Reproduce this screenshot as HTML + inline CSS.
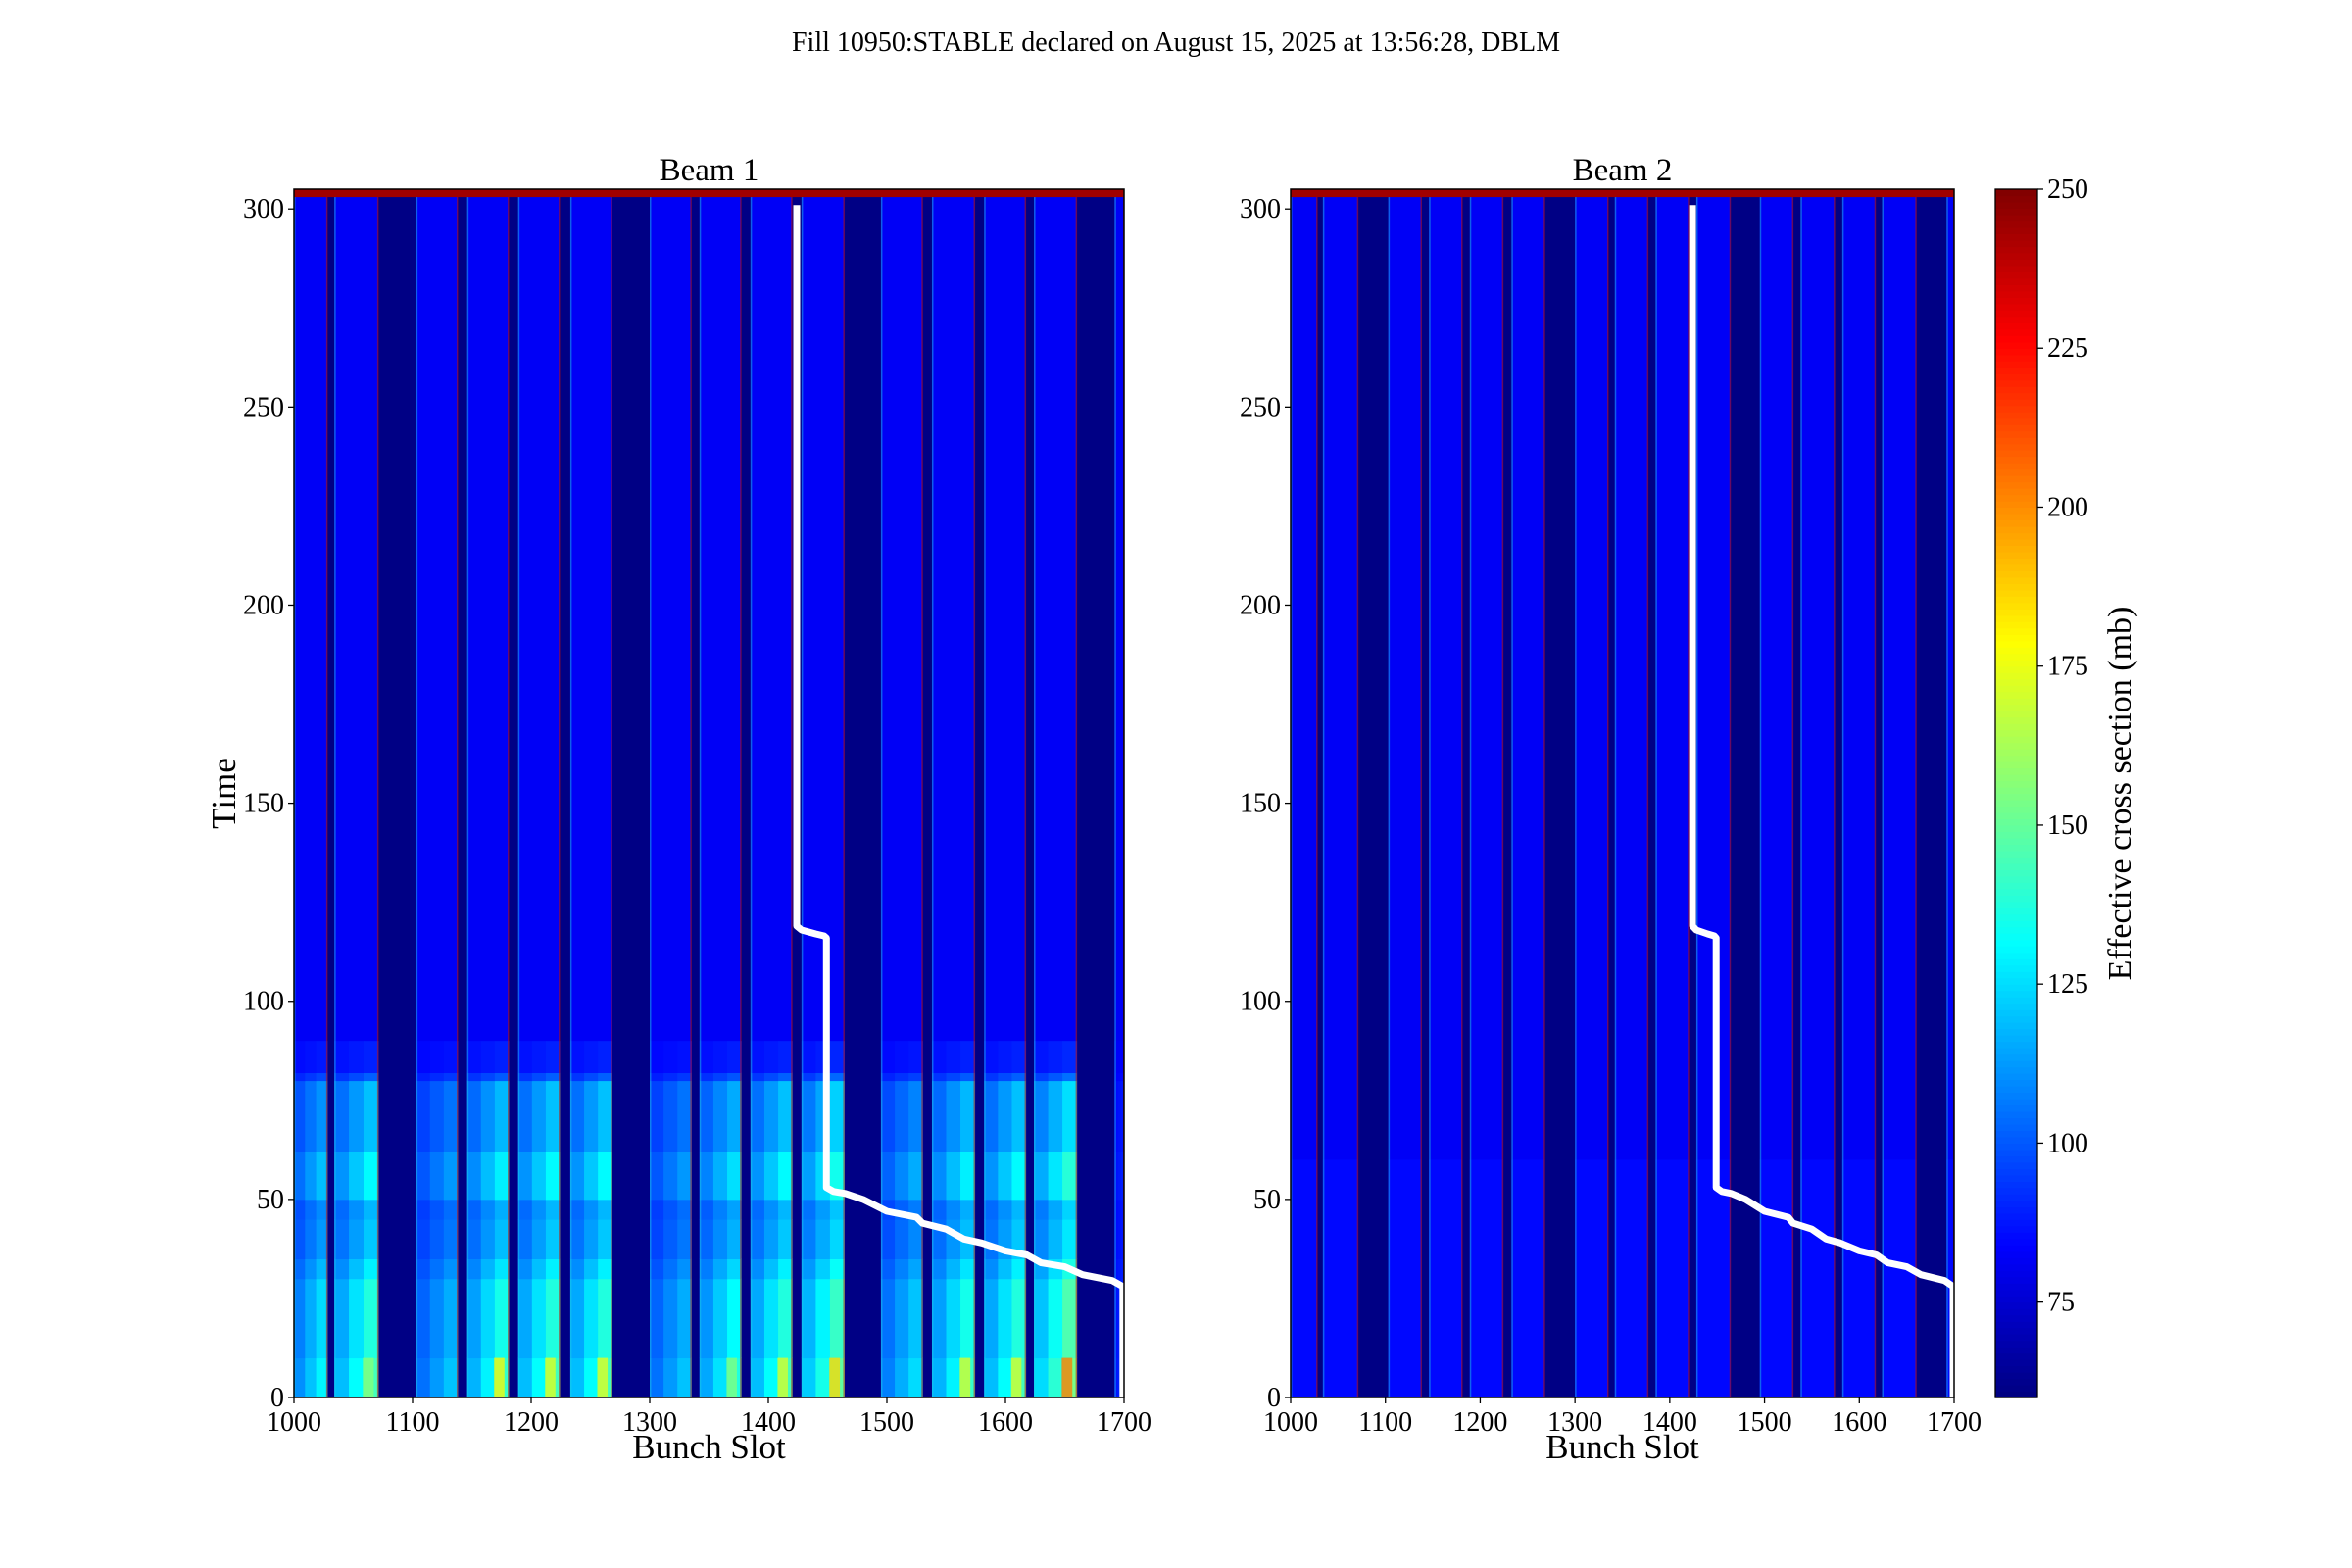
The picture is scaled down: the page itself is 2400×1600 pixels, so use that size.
<!DOCTYPE html>
<html><head><meta charset="utf-8">
<style>
html,body{margin:0;padding:0;background:#fff;}
svg{display:block;font-family:"Liberation Serif",serif;}
</style></head>
<body>
<svg id="fig" width="2400" height="1600" viewBox="0 0 2400 1600" xmlns="http://www.w3.org/2000/svg">
<text x="1200" y="52" font-size="28" text-anchor="middle">Fill 10950:STABLE declared on August 15, 2025 at 13:56:28, DBLM</text>
<g id="p1"></g>
<g id="p2"></g>
<g id="cb"></g>
</svg>
<script>
// ---- data ----
const trainStarts = [1000,1034,1103,1146,1189,1233,1300,1342,1385,1428,1495,1538,1582,1624,1692];
const trainEnds   = [1028,1071,1138,1181,1224,1268,1335,1377,1420,1464,1530,1574,1617,1660,1700];
const beam1Gain   = [50,65,40,62,65,65,40,58,65,70,45,62,65,75,10];
const beam1Hot    = [0,5,0,25,20,20,0,5,18,30,0,18,18,45,0];
const bandStart   = [0,10,30,35,45,50,62,80,82];
const bandEnd     = [10,30,35,45,50,62,80,82,90];
const bandLevel   = [0.95,0.85,0.72,0.6,0.55,0.75,0.58,0.3,0.12];
const timeMax = 305;
const lumiSlots = [1424,1424,1428,1440,1447,1449,1449,1455,1465,1480,1500,1525,1530,1550,1565,1580,1600,1618,1630,1650,1665,1690,1699,1699];
const lumiTimes = [301,119,118,117,116.5,116,53,52,51.5,50,47,45.5,44,42.5,40,39,37,36,34,33,31,29.5,28,0];
const xTicks = [1000,1100,1200,1300,1400,1500,1600,1700];
const yTicks = [0,50,100,150,200,250,300];
const cbTicks = [75,100,125,150,175,200,225,250];
const cbMin = 60, cbMax = 250;

const NS="http://www.w3.org/2000/svg";
function jet(v){
  let x=(v-cbMin)/(cbMax-cbMin); x=Math.max(0,Math.min(1,x));
  const c=t=>Math.round(255*Math.max(0,Math.min(1,t)));
  const r=1.5-Math.abs(4*x-3), g=1.5-Math.abs(4*x-2), b=1.5-Math.abs(4*x-1);
  return `rgb(${c(r)},${c(g)},${c(b)})`;
}
function mk(parent,tag,attrs){const e=document.createElementNS(NS,tag);for(const k in attrs)e.setAttribute(k,attrs[k]);parent.appendChild(e);return e;}

const Y0=1426, Ytop=193;
const Y=t=>Y0-t*(Y0-Ytop)/timeMax;

function panel(g,left,right,isBeam1,title){
  const X=s=>left+(s-1000)/700*(right-left);
  const bg=mk(g,'rect',{x:left,y:Ytop,width:right-left,height:Y0-Ytop,fill:jet(61)});
  
  
  for(let i=0;i<trainStarts.length;i++){
    const x0=X(trainStarts[i]), x1=X(trainEnds[i]);
    const body=mk(g,'rect',{x:x0,y:Ytop,width:x1-x0,height:Y0-Ytop,fill:jet(82)});
    
    
    if(isBeam1){
      const subs=[0.6,0.8,1.0];
      for(let j=0;j<bandStart.length;j++){
        for(let k=0;k<3;k++){
          const sx=x0+(x1-x0)*k/3;
          const v=82+beam1Gain[i]*bandLevel[j]*subs[k];
          const c=mk(g,'rect',{x:sx,y:Y(bandEnd[j]),width:(x1-x0)/3+0.5,height:Y(bandStart[j])-Y(bandEnd[j])+0.5,fill:jet(v)});
          
          
        }
      }
      if(beam1Hot[i]>0){
        const hx=x1-(x1-x0)*0.35;
        const h=mk(g,'rect',{x:hx,y:Y(10),width:(x1-x0)*0.25,height:Y(0)-Y(10),fill:jet(150+beam1Hot[i]*1.2),opacity:0.75});
        
        
      }
    } else {
      const lo=mk(g,'rect',{x:x0,y:Y(60),width:x1-x0,height:Y(0)-Y(60),fill:jet(85)});
      
      
    }
    const edge=mk(g,'rect',{x:x1-1,y:Ytop,width:1.5,height:Y0-Ytop,fill:'#c01000',opacity:0.55});
    
    
    const st=mk(g,'rect',{x:x0,y:Ytop,width:1.5,height:Y0-Ytop,fill:'#20d0e0',opacity:0.45});
    
    
  }
  const topband=mk(g,'rect',{x:left,y:Ytop,width:right-left,height:Y(303)-Ytop,fill:'#a00000'});
  
  
  let d='';
  for(let i=0;i<lumiSlots.length;i++) d+=(i?'L':'M')+X(lumiSlots[i]).toFixed(1)+','+Y(lumiTimes[i]).toFixed(1);
  const ln=mk(g,'path',{d:d,fill:'none',stroke:'#fff','stroke-width':7,'stroke-linejoin':'round'});
  
  
  const fr=mk(g,'rect',{x:left,y:Ytop,width:right-left,height:Y0-Ytop,fill:'none',stroke:'#000','stroke-width':1.5});
  
  
  xTicks.forEach(t=>{
    const tk=mk(g,'line',{x1:X(t),x2:X(t),y1:Y0,y2:Y0+6,stroke:'#000','stroke-width':1.3});
    
    
    const tl=mk(g,'text',{x:X(t),y:Y0+34,'font-size':28,'text-anchor':'middle'});
    tl.textContent=t;
    
    
  });
  yTicks.forEach(t=>{
    const tk=mk(g,'line',{x1:left-6,x2:left,y1:Y(t),y2:Y(t),stroke:'#000','stroke-width':1.3});
    
    
    const tl=mk(g,'text',{x:left-10,y:Y(t)+9,'font-size':28,'text-anchor':'end'});
    tl.textContent=t;
    
    
  });
  const tt=mk(g,'text',{x:(left+right)/2,y:184,'font-size':33,'text-anchor':'middle'});
  tt.textContent=title;
  
  
  const xl=mk(g,'text',{x:(left+right)/2,y:1488,'font-size':35,'text-anchor':'middle'});
  xl.textContent='Bunch Slot';
  
  
  if(isBeam1){
    const yl=mk(g,'text',{x:0,y:0,'font-size':35,'text-anchor':'middle',transform:`translate(240,${(Y0+Ytop)/2}) rotate(-90)`});
    yl.textContent='Time';
    
    
  }
}
panel(document.getElementById('p1'),300,1147,true,'Beam 1');
panel(document.getElementById('p2'),1317,1994,false,'Beam 2');

// colorbar
const cb=document.getElementById('cb');
const cx0=2036,cx1=2079;
const Ycb=v=>Y0-(v-cbMin)/(cbMax-cbMin)*(Y0-Ytop);
for(let v=cbMin;v<cbMax;v+=1){
  const r=mk(cb,'rect',{x:cx0,y:Ycb(v+1),width:cx1-cx0,height:Ycb(v)-Ycb(v+1)+0.6,fill:jet(v+0.5)});
  
  
}
const cf=mk(cb,'rect',{x:cx0,y:Ytop,width:cx1-cx0,height:Y0-Ytop,fill:'none',stroke:'#000','stroke-width':1.3});


cbTicks.forEach(t=>{
  const tk=mk(cb,'line',{x1:cx1,x2:cx1+6,y1:Ycb(t),y2:Ycb(t),stroke:'#000','stroke-width':1.3});
  
  
  const tl=mk(cb,'text',{x:cx1+10,y:Ycb(t)+9,'font-size':28});
  tl.textContent=t;
  
  
});
const cl=mk(cb,'text',{x:0,y:0,'font-size':34,'text-anchor':'middle',transform:`translate(2174,${(Y0+Ytop)/2}) rotate(-90)`});
cl.textContent='Effective cross section (mb)';


</script>
</body></html>
